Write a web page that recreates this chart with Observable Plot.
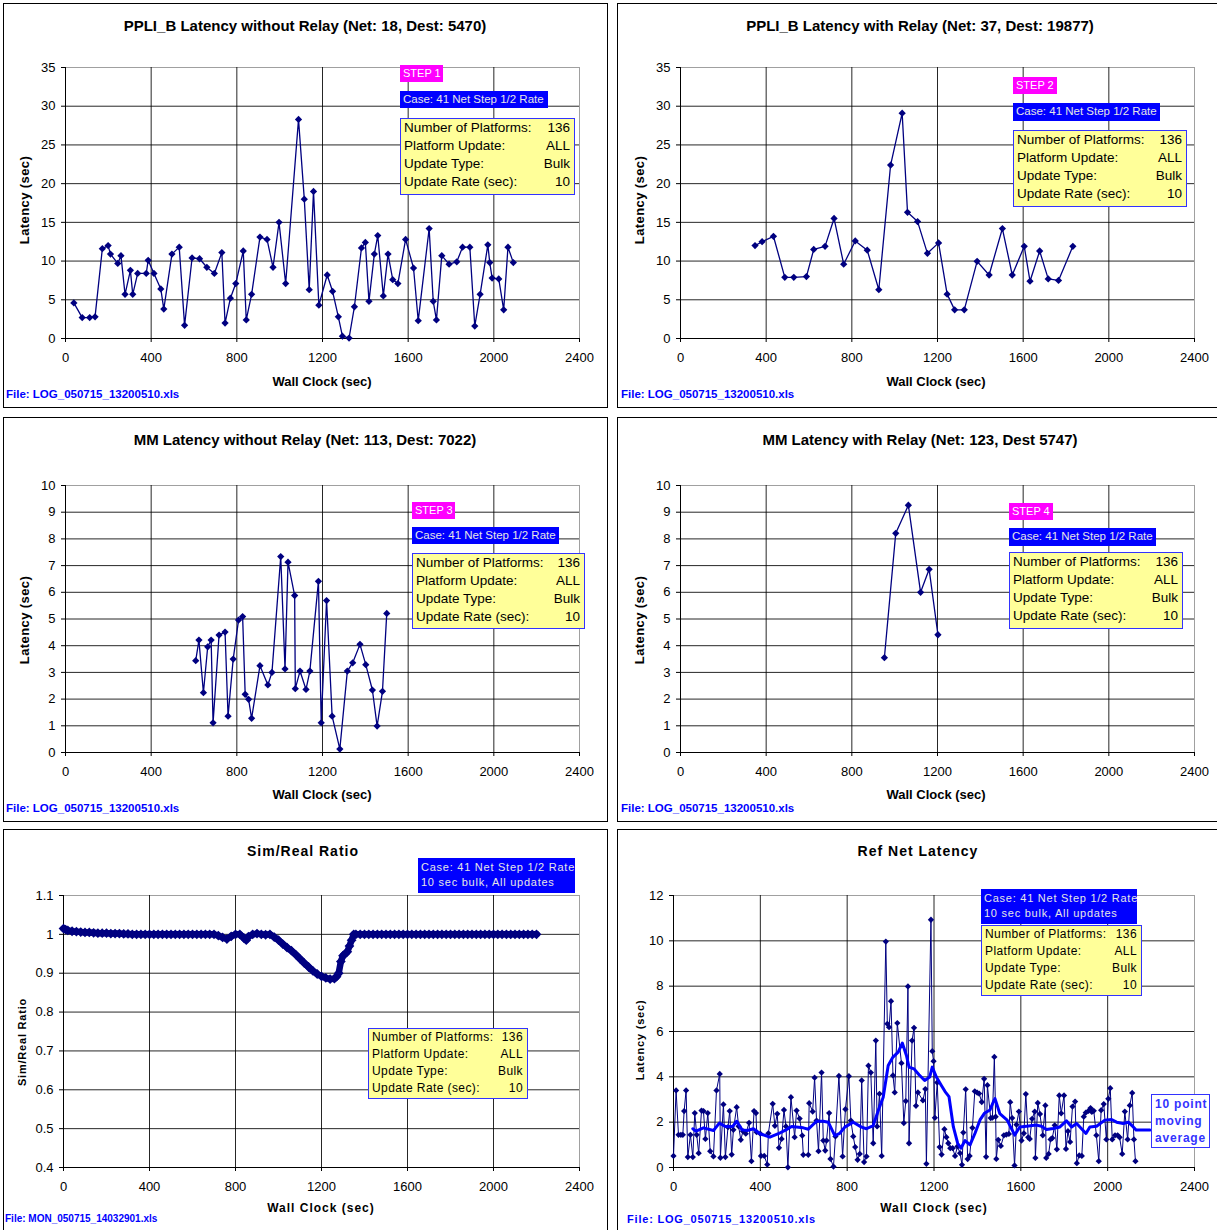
<!DOCTYPE html>
<html><head><meta charset="utf-8">
<script src="https://cdn.jsdelivr.net/npm/d3@7"></script>
<script src="https://cdn.jsdelivr.net/npm/@observablehq/plot@0.6"></script>
<style>
body{margin:0;background:#fff;font-family:"Liberation Sans",Arial,sans-serif;}
#page{position:relative;width:1217px;height:1230px;overflow:hidden;background:#fff;}
.panel{position:absolute;box-sizing:border-box;border:1px solid #000;background:#fff;overflow:hidden;}
.panel svg{position:absolute;left:0;top:0;}
.t{position:absolute;white-space:nowrap;color:#000;}
.title{font-weight:bold;font-size:15px;line-height:16px;transform:translateX(-50%);}
.xlab{font-weight:bold;font-size:13px;line-height:14px;transform:translateX(-50%);}
.ylab{font-weight:bold;font-size:13px;line-height:14px;letter-spacing:0.4px;transform:translate(-50%,-50%) rotate(-90deg);}
.file{font-weight:bold;font-size:11.5px;line-height:13px;color:#0000ff;}
.box{position:absolute;box-sizing:border-box;white-space:nowrap;overflow:hidden;}
.step{background:#ff00ff;color:#fff;font-size:11px;line-height:17px;padding-left:3px;}
.case{background:#0000ff;color:#e6e6e6;font-size:11.5px;line-height:17px;padding-left:3px;}
.case2{background:#0000ff;color:#e6e6e6;font-size:11px;line-height:15px;padding:2px 0 0 3px;letter-spacing:0.75px;}
.info{background:#ffff99;border:1px solid #3333ff;font-size:13.5px;line-height:18px;padding:0 4px 0 3px;}
.info2{background:#ffff99;border:1px solid #3333ff;font-size:12px;line-height:17px;padding:0 4px 0 3px;letter-spacing:0.4px;}
.row{display:flex;justify-content:space-between;}
.ma{background:#fff;border:1px solid #3333ff;color:#3333ff;font-weight:bold;font-size:12px;line-height:17px;padding:1px 0 0 3px;letter-spacing:0.8px;}
</style>
</head><body><div id="page"></div>
<script>
// ---------------- DATA ----------------
const xTicks = [0, 400, 800, 1200, 1600, 2000, 2400];
const yTicksLat35 = [0, 5, 10, 15, 20, 25, 30, 35];
const yTicksLat10 = [0, 1, 2, 3, 4, 5, 6, 7, 8, 9, 10];
const yTicksRatio = [0.4, 0.5, 0.6, 0.7, 0.8, 0.9, 1, 1.1];
const yTicksRef = [0, 2, 4, 6, 8, 10, 12];

const infoLabels = ["Number of Platforms:", "Platform Update:", "Update Type:", "Update Rate (sec):"];
const infoValues = ["136", "ALL", "Bulk", "10"];
const caseText = "Case: 41 Net Step 1/2 Rate";
const caseText2 = "10 sec bulk, All updates";
const maLabel = ["10 point", "moving", "average"];

// PPLI_B without relay
const ppliNoRelayX = [39,78,113,138,172,199,210,244,259,278,303,314,337,377,386,413,445,459,497,531,556,591,626,660,695,730,745,770,795,830,844,869,908,941,969,997,1028,1088,1115,1138,1158,1183,1222,1247,1274,1293,1324,1349,1382,1400,1417,1442,1458,1484,1506,1528,1552,1588,1625,1647,1698,1717,1732,1757,1791,1827,1854,1888,1911,1936,1972,1981,1992,2023,2046,2066,2091];
const ppliNoRelayY = [4.6,2.7,2.7,2.8,11.6,12.0,10.9,9.7,10.7,5.7,8.8,5.7,8.4,8.4,10.1,8.4,6.4,3.8,10.9,11.8,1.7,10.4,10.3,9.2,8.4,11.1,2.0,5.2,7.1,11.3,2.4,5.7,13.1,12.8,9.2,15.0,7.1,28.3,18.0,6.3,19.0,4.3,8.2,6.1,2.8,0.3,0.05,4.1,11.7,12.4,4.8,10.9,13.3,5.5,10.9,7.6,7.1,12.8,9.1,2.3,14.2,4.8,2.4,10.7,9.6,9.9,11.8,11.8,1.6,5.7,12.1,9.8,7.8,7.7,3.7,11.8,9.8];

// PPLI_B with relay
const ppliRelayX = [348,381,434,487,529,588,622,675,717,762,816,872,926,981,1035,1060,1107,1153,1205,1245,1280,1325,1385,1441,1503,1549,1605,1632,1677,1717,1765,1832];
const ppliRelayY = [12.0,12.5,13.2,7.9,7.9,8.0,11.5,11.9,15.5,9.6,12.6,11.4,6.3,22.4,29.1,16.3,15.1,11.0,12.35,5.73,3.7,3.7,9.97,8.2,14.2,8.2,11.9,7.4,11.3,7.7,7.5,11.9];

// MM without relay
const mmNoRelayX = [608,623,644,664,680,689,717,745,759,783,808,827,839,855,869,908,945,964,1005,1025,1039,1070,1073,1095,1123,1141,1181,1194,1219,1245,1281,1316,1341,1375,1402,1433,1455,1480,1500];
const mmNoRelayY = [3.44,4.21,2.24,3.96,4.21,1.11,4.4,4.51,1.36,3.5,4.96,5.09,2.18,1.99,1.28,3.25,2.53,3.0,7.34,3.13,7.13,5.88,2.39,3.05,2.36,3.05,6.41,1.11,5.69,1.36,0.13,3.05,3.36,4.05,3.29,2.34,0.99,2.29,5.21];

// MM with relay
const mmRelayX = [952,1005,1064,1121,1161,1202];
const mmRelayY = [3.55,8.21,9.26,6.0,6.86,4.41];

// Sim/Real ratio [wall clock, ratio]
const simReal = [[0,1.015],[10,1.012],[20,1.010],[40,1.008],[60,1.007],[80,1.006],[100,1.005],[120,1.005],[140,1.004],[160,1.003],[180,1.003],[200,1.003],[220,1.002],[240,1.002],[260,1.002],[280,1.001],[300,1.001],[320,1.0],[340,1.0],[360,1.0],[380,1.0],[400,1.0],[420,1.0],[440,1.0],[460,1.0],[480,1.0],[500,1.0],[520,1.0],[540,1.0],[560,1.0],[580,1.0],[600,1.0],[620,1.0],[640,1.0],[660,1.0],[680,1.0],[700,1.0],[720,0.997],[740,0.992],[760,0.988],[780,0.995],[800,1.0],[820,1.0],[840,0.99],[850,0.985],[860,0.994],[880,1.0],[900,1.002],[920,1.0],[940,0.999],[960,1.0],[980,0.993],[1000,0.985],[1020,0.975],[1040,0.966],[1060,0.958],[1080,0.948],[1100,0.937],[1120,0.926],[1140,0.916],[1160,0.906],[1180,0.898],[1200,0.892],[1220,0.888],[1240,0.885],[1260,0.886],[1270,0.891],[1280,0.90],[1290,0.93],[1300,0.945],[1310,0.95],[1320,0.955],[1330,0.97],[1340,0.985],[1350,1.0],[1360,1.0],[1380,1.0],[1400,1.0],[1420,1.0],[1440,1.0],[1460,1.0],[1480,1.0],[1500,1.0],[1520,1.0],[1540,1.0],[1560,1.0],[1580,1.0],[1600,1.0],[1620,1.0],[1640,1.0],[1660,1.0],[1680,1.0],[1700,1.0],[1720,1.0],[1740,1.0],[1760,1.0],[1780,1.0],[1800,1.0],[1820,1.0],[1840,1.0],[1860,1.0],[1880,1.0],[1900,1.0],[1920,1.0],[1940,1.0],[1960,1.0],[1980,1.0],[2000,1.0],[2020,1.0],[2040,1.0],[2060,1.0],[2080,1.0],[2100,1.0],[2120,1.0],[2140,1.0],[2160,1.0],[2180,1.0],[2200,1.0]];

// Ref Net latency [wall clock, latency]
const refNet = [[0,0.51],[12,3.4],[23,1.44],[34,1.44],[43,1.44],[49,2.49],[58,3.4],[66,0.46],[78,1.44],[89,0.46],[98,2.4],[107,1.44],[116,0.63],[129,2.51],[138,2.49],[147,1.26],[158,2.4],[169,0.72],[184,0.49],[198,3.4],[213,4.13],[216,0.43],[230,2.78],[239,0.46],[251,1.78],[259,2.49],[268,0.57],[276,1.66],[291,2.66],[300,1.82],[310,1.22],[320,1.6],[333,1.49],[348,1.97],[359,0.28],[371,2.49],[380,2.4],[383,1.56],[400,1.49],[403,0.51],[418,0.51],[432,0.13],[437,1.51],[457,2.81],[467,1.84],[478,2.37],[486,0.87],[498,1.26],[509,2.54],[518,1.81],[527,0.01],[541,3.1],[558,1.34],[567,2.51],[581,2.16],[593,1.41],[598,0.56],[621,0.56],[625,2.84],[641,2.47],[650,3.96],[659,2.07],[668,0.72],[682,4.19],[690,1.19],[699,0.75],[705,1.19],[717,2.4],[723,0.38],[737,0.04],[746,1.37],[762,4.04],[779,0.49],[792,2.57],[808,4.03],[817,2.07],[828,1.37],[837,0.9],[848,0.34],[858,0.6],[867,3.84],[878,0.24],[889,0.49],[898,4.49],[909,4.19],[920,1.07],[932,5.6],[938,1.81],[949,3.25],[959,0.51],[978,9.97],[985,6.34],[993,6.19],[1002,7.34],[1011,4.06],[1019,3.31],[1031,6.37],[1050,4.6],[1061,1.96],[1070,2.93],[1080,7.99],[1085,1.07],[1099,5.6],[1108,6.16],[1117,2.72],[1126,3.31],[1149,2.96],[1160,3.46],[1165,0.16],[1186,10.93],[1192,5.13],[1198,4.69],[1204,2.19],[1215,3.75],[1226,0.9],[1235,0.57],[1248,1.69],[1257,1.34],[1266,1.07],[1275,0.85],[1286,0.85],[1297,0.51],[1308,0.93],[1320,0.63],[1329,0.12],[1335,1.54],[1346,3.45],[1355,0.37],[1364,0.51],[1377,1.75],[1388,3.36],[1399,3.3],[1408,3.26],[1420,2.89],[1431,3.91],[1440,0.47],[1446,3.63],[1461,2.18],[1469,2.2],[1478,4.88],[1484,2.24],[1487,0.38],[1496,1.22],[1508,0.95],[1522,1.42],[1533,1.45],[1545,1.48],[1551,2.88],[1560,2.18],[1571,0.09],[1580,1.89],[1591,2.47],[1603,1.19],[1614,1.51],[1623,3.24],[1634,1.33],[1641,1.26],[1652,2.15],[1664,2.47],[1667,0.42],[1678,2.85],[1688,2.36],[1701,1.42],[1713,2.74],[1717,0.42],[1728,0.6],[1737,1.24],[1745,1.3],[1756,1.86],[1766,0.8],[1777,3.18],[1786,2.39],[1799,3.18],[1808,0.82],[1817,1.6],[1827,1.13],[1838,2.69],[1850,2.91],[1858,0.19],[1869,0.53],[1881,0.51],[1890,2.24],[1899,2.42],[1912,2.5],[1921,2.62],[1927,2.45],[1936,2.5],[1948,1.42],[1959,0.28],[1970,2.53],[1982,2.8],[1994,1.24],[2003,3.03],[2012,3.5],[2021,1.24],[2034,1.42],[2046,1.42],[2055,1.33],[2067,0.6],[2079,2.47],[2092,1.24],[2102,2.74],[2113,3.29],[2121,1.24],[2128,0.28]];

// 10 point moving average as drawn [wall clock, latency]
const refNetAvg = [[89,1.71],[104,1.6],[138,1.75],[184,1.63],[211,1.96],[239,1.81],[273,1.81],[291,2.04],[316,1.66],[340,1.63],[368,1.71],[398,1.49],[444,1.34],[483,1.49],[518,1.66],[544,1.81],[598,1.75],[621,1.69],[659,2.04],[690,2.04],[713,2.0],[743,1.41],[766,1.51],[789,1.78],[828,2.0],[866,1.78],[889,1.71],[920,1.85],[943,2.51],[966,3.1],[989,4.5],[1011,4.87],[1035,5.09],[1054,5.49],[1073,4.94],[1085,4.43],[1108,4.35],[1131,4.09],[1157,3.84],[1180,3.99],[1192,4.43],[1211,3.99],[1234,3.62],[1251,3.35],[1269,3.13],[1289,1.8],[1309,1.07],[1324,0.85],[1343,1.19],[1366,1.0],[1389,1.51],[1412,2.1],[1432,2.39],[1458,2.54],[1474,2.91],[1481,3.04],[1503,2.38],[1537,2.09],[1572,1.43],[1595,1.79],[1626,1.82],[1672,1.87],[1695,1.82],[1718,1.68],[1749,1.72],[1780,1.79],[1810,2.06],[1834,1.79],[1857,1.94],[1900,1.5],[1918,1.79],[1949,1.82],[1987,2.09],[2018,2.12],[2041,2.0],[2072,1.94],[2095,2.0],[2118,1.79],[2131,1.65],[2195,1.65]];

// ---------------- RENDER ----------------
const page = document.getElementById("page");
const diamond = {draw(ctx, size) {const h = Math.sqrt(size / 2); ctx.moveTo(0, -h); ctx.lineTo(h, 0); ctx.lineTo(0, h); ctx.lineTo(-h, 0); ctx.closePath();}};
const NAVY = "#000080";
const fmt = d => String(d);

function el(cls, text, x, y, extra) {
  const d = document.createElement("div");
  d.className = cls;
  d.textContent = text;
  d.style.left = x + "px";
  d.style.top = y + "px";
  if (extra) Object.assign(d.style, extra);
  page.appendChild(d);
  return d;
}
function box(cls, x, y, w, h) {
  const d = document.createElement("div");
  d.className = "box " + cls;
  Object.assign(d.style, {left: x + "px", top: y + "px", width: w + "px", height: h + "px"});
  page.appendChild(d);
  return d;
}
function infoBox(cls, x, y, w, h) {
  const d = box(cls, x, y, w, h);
  infoLabels.forEach((lab, i) => {
    const r = document.createElement("div"); r.className = "row";
    const a = document.createElement("span"); a.textContent = lab;
    const b = document.createElement("span"); b.textContent = infoValues[i];
    r.appendChild(a); r.appendChild(b); d.appendChild(r);
  });
}

function panel(cfg) {
  const [bx0, by0, bx1, by1] = cfg.box;
  const div = document.createElement("div");
  div.className = "panel";
  Object.assign(div.style, {left: bx0 + "px", top: by0 + "px", width: (bx1 - bx0) + "px", height: (by1 - by0) + "px"});
  page.appendChild(div);
  const ox = bx0 + 1, oy = by0 + 1, W = bx1 - bx0 - 2, H = by1 - by0 - 2;
  const [L, T, R, B] = cfg.plot;
  const yT = cfg.yTicks, yMin = yT[0], yMax = yT[yT.length - 1];
  const chart = Plot.plot({
    width: W, height: H,
    marginLeft: L - ox, marginTop: T - oy, marginRight: W - (R - ox), marginBottom: H - (B - oy),
    x: {domain: [0, 2400]},
    y: {domain: [yMin, yMax]},
    style: {fontFamily: "'Liberation Sans', Arial, sans-serif", fontSize: "13px", color: "#000", background: "#fff", overflow: "visible"},
    marks: [
      Plot.frame({stroke: "#a0a0a0"}),
      Plot.gridY(yT.filter(t => t < yMax), {stroke: "#000", strokeOpacity: 0.85}),
      Plot.gridX(xTicks.filter(t => t < 2400), {stroke: "#000", strokeOpacity: 0.85}),
      Plot.axisY(yT, {tickSize: 4, tickPadding: 6, label: null, tickFormat: fmt, fontSize: 13}),
      Plot.axisX(xTicks, {tickSize: 4, tickPadding: 10, label: null, tickFormat: fmt, fontSize: 13}),
      Plot.ruleX([0], {stroke: "#000"}),
      Plot.ruleY([yMin], {stroke: "#000"}),
      ...cfg.marks
    ]
  });
  div.appendChild(chart);
}

function seriesMarks(xs, ys) {
  const data = xs.map((x, i) => ({x, y: ys[i]}));
  return [
    Plot.line(data, {x: "x", y: "y", stroke: NAVY, strokeWidth: 1.3}),
    Plot.dot(data, {x: "x", y: "y", symbol: diamond, r: 2.9, fill: NAVY, stroke: "none"})
  ];
}

// Panel 1
panel({box: [3, 3, 608, 408], plot: [65, 67, 579, 338], yTicks: yTicksLat35, marks: seriesMarks(ppliNoRelayX, ppliNoRelayY)});
// Panel 2
panel({box: [617, 3, 1218, 408], plot: [680, 67, 1194, 338], yTicks: yTicksLat35, marks: seriesMarks(ppliRelayX, ppliRelayY)});
// Panel 3
panel({box: [3, 417, 608, 822], plot: [65, 485, 579, 752], yTicks: yTicksLat10, marks: seriesMarks(mmNoRelayX, mmNoRelayY)});
// Panel 4
panel({box: [617, 417, 1218, 822], plot: [680, 485, 1194, 752], yTicks: yTicksLat10, marks: seriesMarks(mmRelayX, mmRelayY)});
// Panel 5
panel({box: [3, 829, 608, 1235], plot: [63, 895, 579, 1167], yTicks: yTicksRatio, marks: [
  Plot.line(simReal, {x: d => d[0], y: d => d[1], stroke: NAVY, strokeWidth: 6.5, strokeLinejoin: "round", strokeLinecap: "round"}),
  Plot.dot(simReal, {x: d => d[0], y: d => d[1], symbol: diamond, r: 3.9, fill: NAVY, stroke: "none"})
]});
// Panel 6
panel({box: [617, 829, 1218, 1235], plot: [673, 895, 1194, 1167], yTicks: yTicksRef, marks: [
  Plot.line(refNet, {x: d => d[0], y: d => d[1], stroke: NAVY, strokeWidth: 1}),
  Plot.dot(refNet, {x: d => d[0], y: d => d[1], symbol: diamond, r: 2.5, fill: NAVY, stroke: "none"}),
  Plot.line(refNetAvg, {x: d => d[0], y: d => d[1], stroke: "#0000ff", strokeWidth: 3})
]});

// Titles and axis labels
el("t title", "PPLI_B Latency without Relay (Net: 18, Dest: 5470)", 305, 18);
el("t title", "PPLI_B Latency with Relay (Net: 37, Dest: 19877)", 920, 18);
el("t title", "MM Latency without Relay (Net: 113, Dest: 7022)", 305, 432);
el("t title", "MM Latency with Relay (Net: 123, Dest 5747)", 920, 432);
el("t title", "Sim/Real Ratio", 303, 843, {letterSpacing: "1px", fontSize: "14px"});
el("t title", "Ref Net Latency", 918, 843, {letterSpacing: "1px", fontSize: "14px"});

el("t xlab", "Wall Clock (sec)", 322, 375);
el("t xlab", "Wall Clock (sec)", 936, 375);
el("t xlab", "Wall Clock (sec)", 322, 788);
el("t xlab", "Wall Clock (sec)", 936, 788);
el("t xlab", "Wall Clock (sec)", 321, 1201, {letterSpacing: "1px", fontSize: "12px"});
el("t xlab", "Wall Clock (sec)", 934, 1201, {letterSpacing: "1px", fontSize: "12px"});

el("t ylab", "Latency (sec)", 25, 200);
el("t ylab", "Latency (sec)", 640, 200);
el("t ylab", "Latency (sec)", 25, 620);
el("t ylab", "Latency (sec)", 640, 620);
el("t ylab", "Sim/Real Ratio", 22, 1042, {fontSize: "11px", letterSpacing: "0.8px"});
el("t ylab", "Latency (sec)", 640, 1040, {fontSize: "11px", letterSpacing: "0.8px"});

el("t file", "File: LOG_050715_13200510.xls", 6, 388);
el("t file", "File: LOG_050715_13200510.xls", 621, 388);
el("t file", "File: LOG_050715_13200510.xls", 6, 802);
el("t file", "File: LOG_050715_13200510.xls", 621, 802);
el("t file", "File: MON_050715_14032901.xls", 5, 1212, {fontSize: "10px"});
el("t file", "File: LOG_050715_13200510.xls", 627, 1213, {letterSpacing: "0.8px", fontSize: "11px"});

// Annotation boxes
box("step", 400, 65, 43, 17).textContent = "STEP 1";
box("case", 400, 91, 148, 17).textContent = caseText;
infoBox("info", 400, 118, 175, 77);
box("step", 1013, 77, 44, 17).textContent = "STEP 2";
box("case", 1013, 103, 147, 18).textContent = caseText;
infoBox("info", 1013, 130, 174, 77);
box("step", 412, 502, 43, 17).textContent = "STEP 3";
box("case", 412, 527, 147, 17).textContent = caseText;
infoBox("info", 412, 553, 173, 76);
box("step", 1009, 503, 44, 17).textContent = "STEP 4";
box("case", 1009, 528, 147, 18).textContent = caseText;
infoBox("info", 1009, 552, 174, 77);

const c5 = box("case2", 418, 858, 157, 35); c5.innerHTML = caseText + "<br>" + caseText2;
infoBox("info2", 368, 1028, 160, 71);
const c6 = box("case2", 981, 889, 156, 35); c6.innerHTML = caseText + "<br>" + caseText2;
infoBox("info2", 981, 925, 161, 71);
const m6 = box("ma", 1151, 1094, 59, 54); m6.innerHTML = maLabel.join("<br>");
</script></body></html>
